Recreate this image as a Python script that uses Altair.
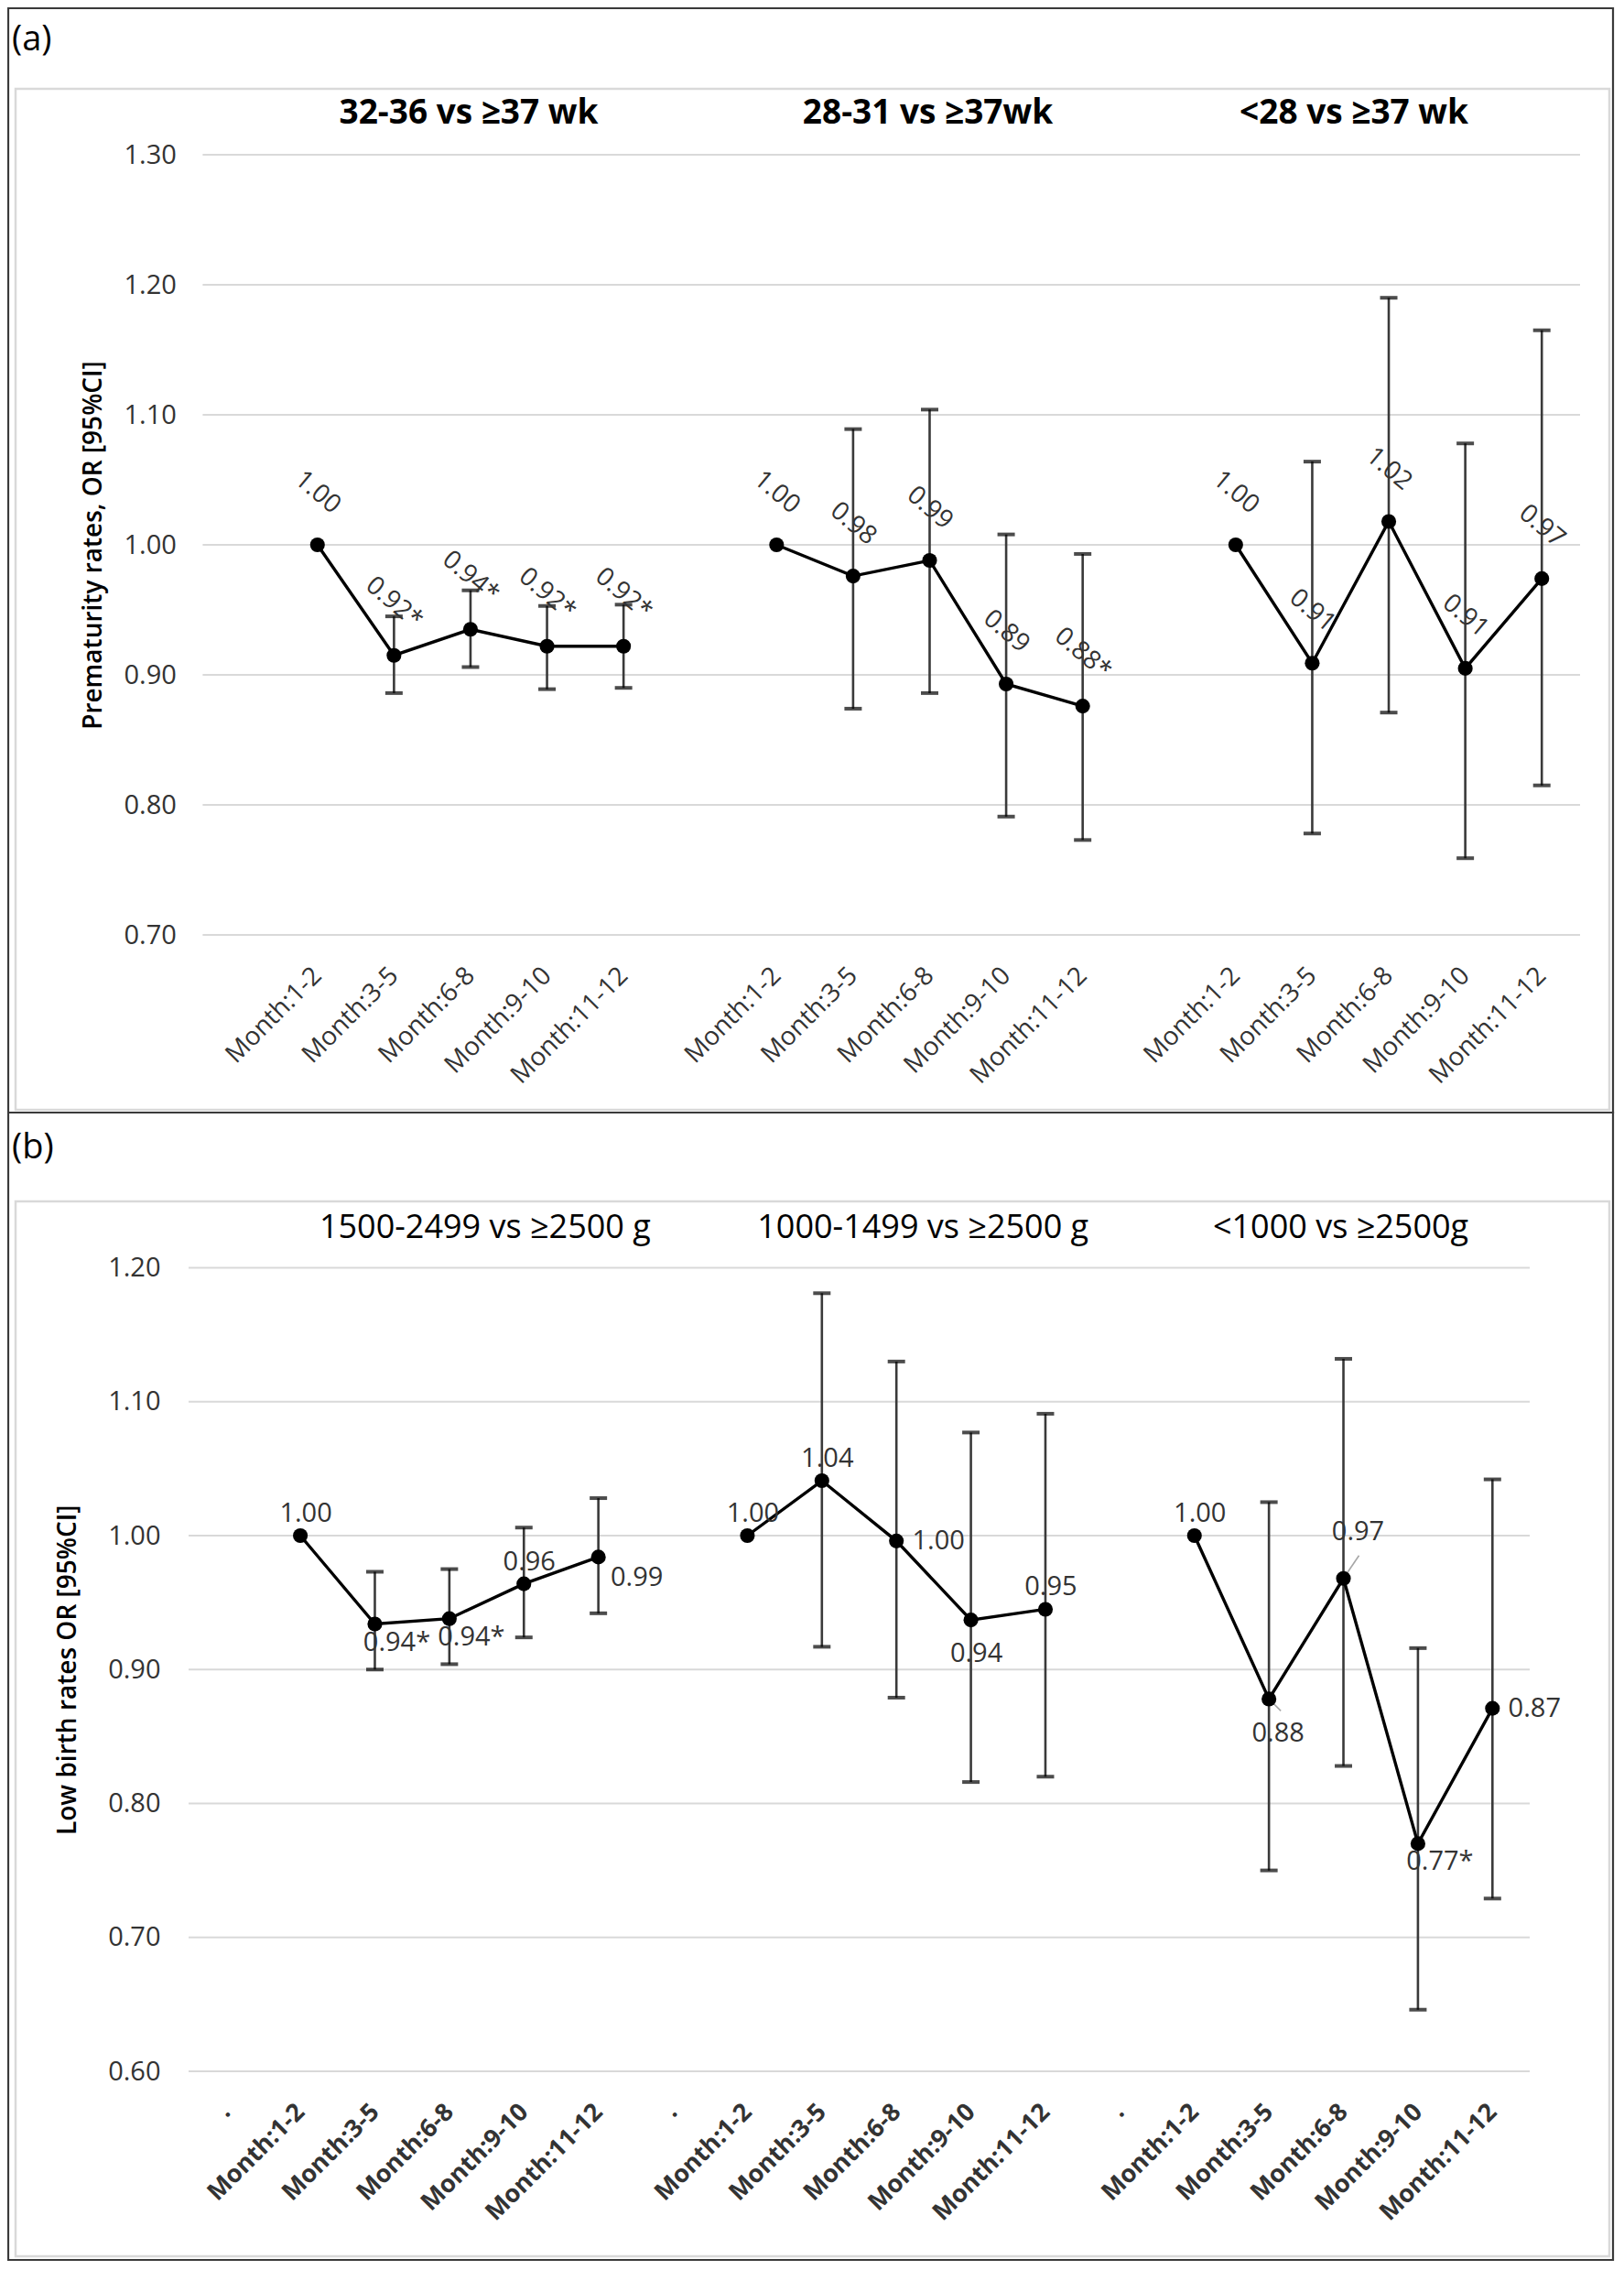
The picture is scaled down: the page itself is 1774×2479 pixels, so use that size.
import json
import altair as alt
import pandas as pd

# ---------------------------------------------------------------- data
MONTHS = ["Month:1-2", "Month:3-5", "Month:6-8", "Month:9-10", "Month:11-12"]
NAN = float("nan")

# panel (a): prematurity
A_GROUPS = ["32-36 vs ≥37 wk", "28-31 vs ≥37wk", "<28 vs ≥37 wk"]
A_OR = [[1.00, 0.915, 0.935, 0.922, 0.922],
        [1.00, 0.976, 0.988, 0.893, 0.876],
        [1.00, 0.909, 1.018, 0.905, 0.974]]
A_LO = [[NAN, 0.886, 0.906, 0.889, 0.890],
        [NAN, 0.874, 0.886, 0.791, 0.773],
        [NAN, 0.778, 0.871, 0.759, 0.815]]
A_HI = [[NAN, 0.945, 0.965, 0.953, 0.954],
        [NAN, 1.089, 1.104, 1.008, 0.993],
        [NAN, 1.064, 1.190, 1.078, 1.165]]
A_LABELS = [["1.00", "0.92*", "0.94*", "0.92*", "0.92*"],
            ["1.00", "0.98", "0.99", "0.89", "0.88*"],
            ["1.00", "0.91", "1.02", "0.91", "0.97"]]
A_TICKLABELS = ([""] + MONTHS) * 3
A_YTICKS = [0.70, 0.80, 0.90, 1.00, 1.10, 1.20, 1.30]
A_YTITLE = "Prematurity rates, OR [95%CI]"

# panel (b): low birth weight
B_GROUPS = ["1500-2499 vs ≥2500 g", "1000-1499 vs ≥2500 g", "<1000 vs ≥2500g"]
B_OR = [[1.00, 0.934, 0.938, 0.964, 0.984],
        [1.00, 1.041, 0.996, 0.937, 0.945],
        [1.00, 0.878, 0.968, 0.770, 0.871]]
B_LO = [[NAN, 0.900, 0.904, 0.924, 0.942],
        [NAN, 0.917, 0.879, 0.816, 0.820],
        [NAN, 0.750, 0.828, 0.646, 0.729]]
B_HI = [[NAN, 0.973, 0.975, 1.006, 1.028],
        [NAN, 1.181, 1.130, 1.077, 1.091],
        [NAN, 1.025, 1.132, 0.916, 1.042]]
B_LABELS = [["1.00", "0.94*", "0.94*", "0.96", "0.99"],
            ["1.00", "1.04", "1.00", "0.94", "0.95"],
            ["1.00", "0.88", "0.97", "0.77*", "0.87"]]
B_LABEL_POS = [["above", "below-right", "below-right", "above", "right-below"],
               ["above", "above", "right", "below", "above"],
               ["above", "below-leader", "above-right-leader", "below-right", "right"]]
B_TICKLABELS = (["."] + MONTHS) * 3
B_YTICKS = [0.60, 0.70, 0.80, 0.90, 1.00, 1.10, 1.20]
B_YTITLE = "Low birth rates OR [95%CI]"

# ---------------------------------------------------------------- layout / styles
W_CANVAS, H_CANVAS = 1756, 2462
FONT = "Open Sans"
GRID = "#d9d9d9"
TXT = "#333333"
POS_STYLE = {"above": (6, -24), "below": (6, 37), "below-leader": (10, 38),
             "below-right": (24, 20), "right-below": (42, 23), "right": (46, 0),
             "above-right-leader": (16, -51)}
LEADER_PX = {"below-leader": (13, 13), "above-right-leader": (17, -25)}

LAYOUT_A = dict(xr=[213.4, 1718.0], yr=[1013.0, 161.0], outer=(1, 1, 1754, 1207),
                inner=(9, 89, 1750, 1204), plabel="(a)", plx=5, ply=35.5,
                ytx=95, ylabpad=29, xfs=28, xfw="normal", tfs=37, tfw="bold", ty=116,
                title_dx=[-2, -2, -38], rotated=True)
LAYOUT_B = dict(xr=[198.0, 1663.0], yr=[2254.0, 1376.5], outer=(1, 1207, 1754, 2460),
                inner=(9, 1304, 1750, 2456), plabel="(b)", plx=5, ply=1245.5,
                ytx=66.5, ylabpad=31, xfs=27, xfw="bold", tfs=36, tfw="normal", ty=1333,
                title_dx=[39, 29, -3], rotated=False)


def frame(groups, ors, los, his, labels, positions):
    rows = []
    for gi, g in enumerate(groups):
        for mi, m in enumerate(MONTHS):
            rows.append(dict(group=g, gi=gi, month=m, xc=gi * 6 + 1 + mi + 0.5,
                             orv=ors[gi][mi], lo=los[gi][mi], hi=his[gi][mi],
                             label=labels[gi][mi], pos=positions[gi][mi]))
    return pd.DataFrame(rows)


def panel_layers(df, groups, ticklabels, yticks, ytitle, L):
    ydom = [yticks[0], yticks[-1]]
    x0, x1 = L["xr"]
    ybot, ytop = L["yr"]
    px_per_unit = (ybot - ytop) / (ydom[1] - ydom[0])
    slot_px = (x1 - x0) / 18.0
    xs = alt.Scale(domain=[0, 18], range=L["xr"], nice=False, zero=False)
    ys = alt.Scale(domain=ydom, range=L["yr"], nice=False, zero=False)
    expr = json.dumps(ticklabels) + "[floor(datum.value)]"

    x_axis = alt.Axis(orient="bottom", offset=ybot - H_CANVAS, values=[k + 0.5 for k in range(18)],
                      labelExpr=expr, title=None, grid=False, domain=False, ticks=False,
                      labelAngle=-45, labelAlign="right", labelBaseline="middle", labelPadding=40,
                      labelOverlap=False, labelFlush=False, labelBound=False,
                      labelFontSize=L["xfs"], labelFontWeight=L["xfw"], labelColor=TXT,
                      labelFont=FONT)
    y_axis = alt.Axis(orient="left", offset=-x0, values=yticks, format=".2f", title=ytitle,
                      grid=False, domain=False, ticks=False, labelPadding=L["ylabpad"],
                      labelFontSize=29, labelColor=TXT, labelFont=FONT, titleFont=FONT,
                      titleFontSize=28, titleFontWeight=600, titleColor="black",
                      titleX=L["ytx"] - x0, titleY=(ybot + ytop) / 2, titleAngle=270,
                      titleAlign="center", titleBaseline="middle")

    def X(field, axis=None):
        return alt.X(f"{field}:Q", scale=xs, axis=axis)

    def Y(field, axis=None):
        return alt.Y(f"{field}:Q", scale=ys, axis=axis)

    one = alt.Data(values=[{"k": 0}])
    ox0, oy0, ox1, oy1 = L["outer"]
    ix0, iy0, ix1, iy1 = L["inner"]
    inner = alt.Chart(one).mark_rect(fill="transparent", stroke=GRID, strokeWidth=2.5).encode(
        x=alt.value(ix0), x2=alt.value(ix1), y=alt.value(iy0), y2=alt.value(iy1))
    outer = alt.Chart(one).mark_rect(fill="transparent", stroke="#3a3a3a", strokeWidth=2.2).encode(
        x=alt.value(ox0), x2=alt.value(ox1), y=alt.value(oy0), y2=alt.value(oy1))
    plabel = alt.Chart(one).mark_text(text=L["plabel"], fontSize=38, align="left",
                                      baseline="middle", color="black", font=FONT).encode(
        x=alt.value(L["plx"]), y=alt.value(L["ply"]))

    grid = alt.Chart(pd.DataFrame({"t": yticks})).mark_rule(color=GRID, strokeWidth=2).encode(
        y=Y("t", y_axis), x=alt.value(x0), x2=alt.value(x1))

    base = alt.Chart(df)
    valid = "isValid(datum.lo) && datum.lo == datum.lo"
    ci = base.transform_filter(valid).mark_rule(color="#3a3a3a", strokeWidth=2.6).encode(
        x=X("xc"), y=Y("lo"), y2="hi:Q")
    caps = base.transform_filter(valid).transform_fold(["lo", "hi"], as_=["end", "val"]).mark_tick(
        orient="horizontal", size=19, thickness=4, color="black").encode(x=X("xc"), y=Y("val"))
    line = base.mark_line(color="black", strokeWidth=3.4).encode(
        x=X("xc"), y=Y("orv"), detail="group:N")
    pts = base.mark_circle(size=260, color="black", opacity=1).encode(
        x=X("xc", x_axis), y=Y("orv"))

    tdf = pd.DataFrame({"title": groups, "gi": list(range(len(groups)))})
    dx_expr = json.dumps([d / slot_px for d in L["title_dx"]])
    titles = alt.Chart(tdf).transform_calculate(
        tx=f"datum.gi * 6 + 3.5 + {dx_expr}[datum.gi]").mark_text(
        fontSize=L["tfs"], fontWeight=L["tfw"], color="black",
        baseline="middle", align="center", font=FONT).encode(
        x=X("tx"), y=alt.value(L["ty"]), text="title:N")

    layers = [inner, outer, plabel, grid, ci, caps]
    if L["rotated"]:
        off = 57.0 / px_per_unit
        lab = base.transform_calculate(ly=f"datum.orv + {off}").mark_text(
            angle=40, fontSize=28, align="center", baseline="middle", color=TXT, font=FONT).encode(
            x=X("xc"), y=Y("ly"), text="label:N")
        layers += [line, pts, lab]
    else:
        leaders = []
        for key, (ldx, ldy) in LEADER_PX.items():
            leaders.append(base.transform_filter(f"datum.pos == '{key}'").transform_calculate(
                x2=f"datum.xc + {ldx / slot_px}", y2=f"datum.orv - {ldy / px_per_unit}").mark_rule(
                color="#a6a6a6", strokeWidth=1.6).encode(
                x=X("xc"), y=Y("orv"), x2="x2:Q", y2="y2:Q"))
        labs = []
        for key, (dx, dy) in POS_STYLE.items():
            labs.append(base.transform_filter(f"datum.pos == '{key}'").mark_text(
                dx=dx, dy=dy, fontSize=29, align="center", baseline="middle", color=TXT,
                font=FONT).encode(x=X("xc"), y=Y("orv"), text="label:N"))
        layers += leaders + [line, pts] + labs
    layers.append(titles)
    return layers


df_a = frame(A_GROUPS, A_OR, A_LO, A_HI, A_LABELS, [["above"] * 5] * 3)
df_b = frame(B_GROUPS, B_OR, B_LO, B_HI, B_LABELS, B_LABEL_POS)

layers = (panel_layers(df_a, A_GROUPS, A_TICKLABELS, A_YTICKS, A_YTITLE, LAYOUT_A)
          + panel_layers(df_b, B_GROUPS, B_TICKLABELS, B_YTICKS, B_YTITLE, LAYOUT_B))

chart = (alt.layer(*layers)
         .resolve_scale(x="independent", y="independent")
         .properties(width=W_CANVAS, height=H_CANVAS, padding=0,
                     autosize=alt.AutoSizeParams(type="none"))
         .configure(font=FONT)
         .configure_view(stroke="transparent"))

chart.save("out.html", embed_options={"renderer": "svg", "actions": False})
